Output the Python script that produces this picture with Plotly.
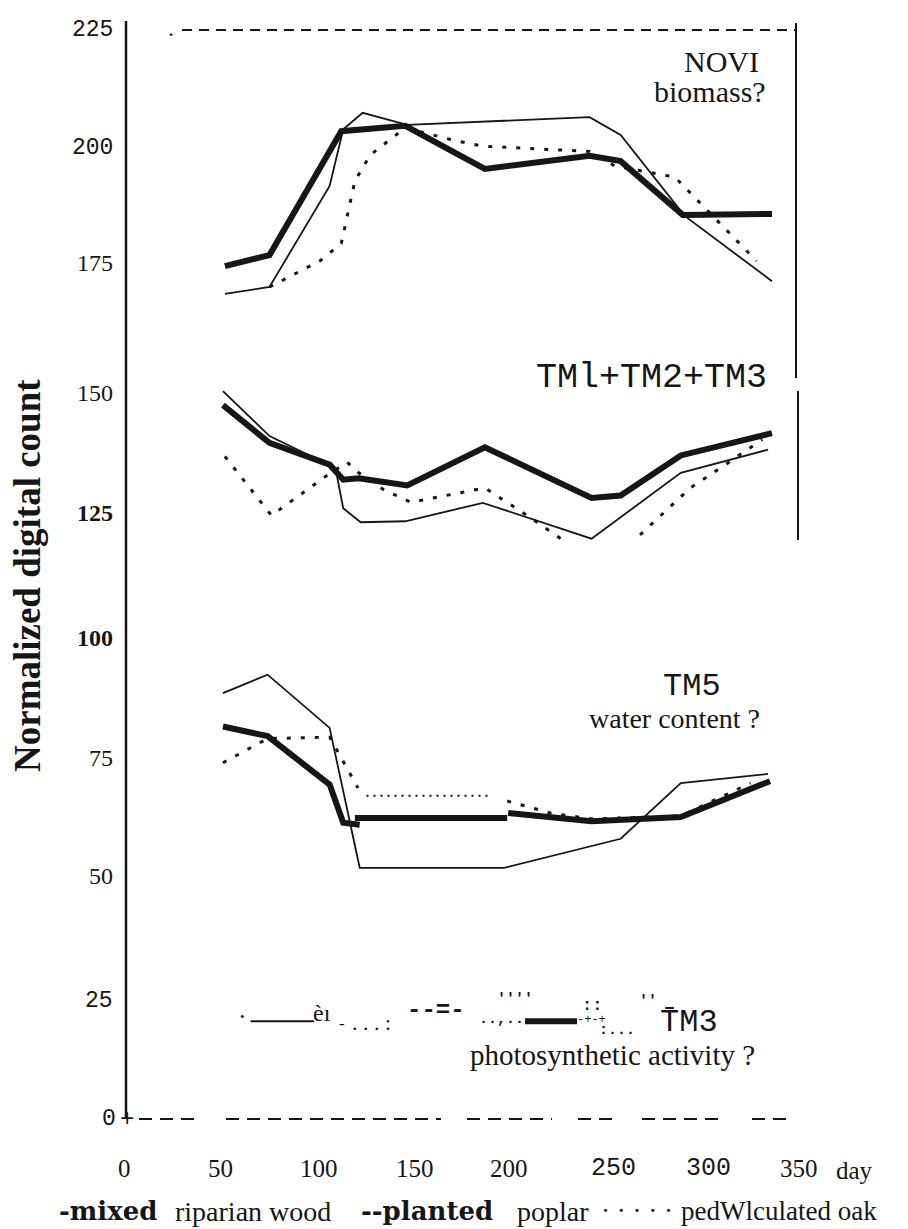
import plotly.graph_objects as go

# ---------------- data (day of year, normalized digital count) ----------------
# NDVI (biomass?)
mixed_ndvi_day = [52, 75, 112, 145, 186, 240, 256, 288, 334]
mixed_ndvi_val = [176.2, 178.5, 204.1, 205.2, 196.3, 199.0, 197.9, 186.8, 187.0]
poplar_ndvi_day = [52, 75, 106, 113, 123, 146, 240, 256, 289, 334]
poplar_ndvi_val = [170.5, 171.9, 192.8, 204.5, 207.9, 205.4, 207.0, 203.3, 186.6, 173.1]
oak_ndvi_day = [75, 101, 112, 119, 127, 145, 169, 185, 240, 253, 284, 326]
oak_ndvi_val = [171.9, 177.3, 180.9, 193.8, 199.2, 204.8, 202.3, 201.0, 199.9, 196.9, 194.6, 177.3]

# TM1+TM2+TM3
mixed_tm123_day = [51, 75, 106, 113, 121, 146, 186, 241, 256, 287, 334]
mixed_tm123_val = [147.5, 139.7, 135.2, 132.1, 132.4, 130.9, 138.8, 128.3, 128.8, 137.1, 141.7]
poplar_tm123_day = [51, 75, 109, 113, 122, 145, 185, 241, 287, 332]
poplar_tm123_val = [150.4, 141.1, 134.5, 126.2, 123.3, 123.5, 127.3, 119.9, 133.5, 138.3]
oak_tm123_day = [52, 76, 103, 115, 121, 134, 148, 186, 207, 227, None, 266, 292, 310, 329]
oak_tm123_val = [136.9, 124.7, 132.5, 135.7, 133.5, 130.0, 127.4, 130.4, 124.9, 119.4, None, 120.7, 130.4, 135.2, 140.4]

# TM5 (water content?)
mixed_tm5_day = [51, 74, 106, 113, 121.5, None, 119, 197.5, None, 198, 241, 287, 333]
mixed_tm5_val = [81.1, 79.1, 69.1, 61.2, 60.8, None, 62.2, 62.2, None, 63.2, 61.5, 62.4, 69.8]
poplar_tm5_day = [51, 74, 106, 121.5, 196, 256, 287, 332]
poplar_tm5_val = [88.0, 91.8, 80.8, 51.9, 51.9, 57.9, 69.4, 71.3]
oak_tm5_day_a = [51, 74, 106, 120.6]
oak_tm5_val_a = [73.6, 78.6, 78.9, 68.4]
oak_tm5_day_fine = [125, 188]
oak_tm5_val_fine = [66.8, 66.8]
oak_tm5_day_b = [197.5, 220, 241, 287, 323]
oak_tm5_val_b = [65.7, 63.2, 62.0, 62.6, 69.4]

# TM3 (photosynthetic activity?)
mixed_tm3_day = [206.7, 233.5]
mixed_tm3_val = [20.2, 20.2]
poplar_tm3_day = [65.2, 98.0]
poplar_tm3_val = [20.2, 20.2]

# tick labels
y_ticks = [225, 200, 175, 150, 125, 100, 75, 50, 25, 0]
x_ticks = [0, 50, 100, 150, 200, 250, 300, 350]

# ---------------- layout helpers ----------------
W, H = 908, 1229
ML, MR, MT, MB = 116, 58, 10, 118
PXD = 1.94
PXV = 4.84
XMAX = (W - ML - MR) / PXD
YMAX = (H - MT - MB) / PXV
SERIF = "Liberation Serif"
MONO = "Liberation Mono"
WIDE = "DejaVu Serif"
INK = "#161616"


def fx(p):
    return (p - ML) / (W - ML - MR)


def fy(p):
    return (H - MB - p) / (H - MT - MB)


fig = go.Figure()

THICK = dict(color=INK, width=6)
THIN = dict(color=INK, width=1.8)
DOT = dict(color=INK, width=3, dash="4px,10px")
FINE = dict(color=INK, width=2, dash="2px,5px")


def add(xs, ys, line):
    fig.add_trace(go.Scatter(x=xs, y=ys, mode="lines", line=line,
                             connectgaps=False, hoverinfo="skip", showlegend=False))


add(poplar_ndvi_day, poplar_ndvi_val, THIN)
add(oak_ndvi_day, oak_ndvi_val, DOT)
add(mixed_ndvi_day, mixed_ndvi_val, THICK)

add(poplar_tm123_day, poplar_tm123_val, THIN)
add(oak_tm123_day, oak_tm123_val, DOT)
add(mixed_tm123_day, mixed_tm123_val, THICK)

add(poplar_tm5_day, poplar_tm5_val, THIN)
add(oak_tm5_day_a, oak_tm5_val_a, DOT)
add(oak_tm5_day_fine, oak_tm5_val_fine, FINE)
add(oak_tm5_day_b, oak_tm5_val_b, DOT)
add(mixed_tm5_day, mixed_tm5_val, THICK)

add(poplar_tm3_day, poplar_tm3_val, THIN)
add(mixed_tm3_day, mixed_tm3_val, THICK)

shapes = []


def seg(x0, y0, x1, y1, width=2, dash="solid"):
    shapes.append(dict(type="line", xref="paper", yref="paper",
                       x0=fx(x0), y0=fy(y0), x1=fx(x1), y1=fy(y1),
                       line=dict(color=INK, width=width, dash=dash)))


# axes / frame pieces
seg(118, 1111, 118, 13, 2.5)
seg(788, 15, 788, 370, 2)
seg(790, 383, 790, 532, 2)
seg(174, 22, 787, 22, 2, "10px,7px")
for a, b in [(131, 192), (218, 433), (459, 544), (570, 608), (634, 718), (744, 782)]:
    seg(a, 1111, b, 1111, 2, "13px,8px")

ann = []


def text(t, x, y, size, family=SERIF, xanchor="center", angle=0, yanchor="middle"):
    ann.append(dict(text=t, x=fx(x), y=fy(y), xref="paper", yref="paper",
                    xanchor=xanchor, yanchor=yanchor, showarrow=False, textangle=angle,
                    borderpad=0, font=dict(family=family, size=size, color=INK)))


# y tick labels (mixed fonts as in scan)
y_pos = [22, 140, 255, 385, 505, 630, 750, 868, 993, 1111]
y_font = [MONO, MONO, SERIF, SERIF, SERIF, SERIF, SERIF, SERIF, MONO, MONO]
y_bold = [False, False, False, False, True, True, False, False, False, False]
for v, p, f, b in zip(y_ticks, y_pos, y_font, y_bold):
    s = f"<b>{v}</b>" if b else str(v)
    text(s, 106 if v else 109, p, 23 if f == MONO else 24, f, "right")
text("+", 119, 1111, 24, MONO)

# x tick labels
x_pos = [116, 212, 311, 407, 501, 605, 700, 791]
x_font = [SERIF, SERIF, SERIF, SERIF, SERIF, MONO, MONO, SERIF]
for v, p, f in zip(x_ticks, x_pos, x_font):
    text(str(v), p, 1160, 25, f)
text("day", 846, 1162, 25)

# axis title
text("<b>Normalized digital count</b>", 20, 568, 37, SERIF, angle=-90)

# panel labels
text(".", 163, 20, 24)
text("NOVI", 713, 53, 30)
text("biomass?", 702, 84, 30)
text("TMl+TM2+TM3", 643, 370, 35, MONO)
text("TM5", 684, 678, 32, MONO)
text("water content ?", 666, 710, 28)
text("T\u0304M3", 681, 1014, 32, MONO)
text("photosynthetic activity ?", 604, 1047, 29)

# scanned TM3 trace fragments
text("·", 234, 1008, 26)
text("èı", 304, 1005, 24, SERIF, "left")
text("-", 334, 1017, 16, MONO)
text(". . . :", 343, 1014, 22, SERIF, "left")
text("<b>--=-</b>", 398, 1002, 24, MONO, "left")
text("<b>&nbsp;&nbsp;''''<br>..,...</b>", 470, 1001, 15, MONO, "left")
text("-+-+", 568, 1012, 12, MONO, "left")
text("<b>::</b>", 584, 997, 17, MONO)
text("<b>:...</b>", 590, 1022, 15, MONO, "left")
text("<b>''</b>", 640, 993, 15, MONO)

# legend line
LY = 1203
text("<b>-mixed</b>", 50, LY, 26, WIDE, "left")
text("riparian wood", 166, LY, 28, SERIF, "left")
text("<b>--planted</b>", 352, LY, 26, WIDE, "left")
text("poplar", 508, LY, 28, SERIF, "left")
text("· · · · ·", 592, LY, 27, SERIF, "left")
text("pedWlculated oak", 672, LY, 27, SERIF, "left")

fig.update_layout(
    width=W, height=H,
    margin=dict(l=ML, r=MR, t=MT, b=MB, pad=0),
    paper_bgcolor="white", plot_bgcolor="white",
    xaxis=dict(range=[0, XMAX], visible=False, fixedrange=True),
    yaxis=dict(range=[0, YMAX], visible=False, fixedrange=True),
    shapes=shapes, annotations=ann, showlegend=False,
)

fig.write_html("out.html")
